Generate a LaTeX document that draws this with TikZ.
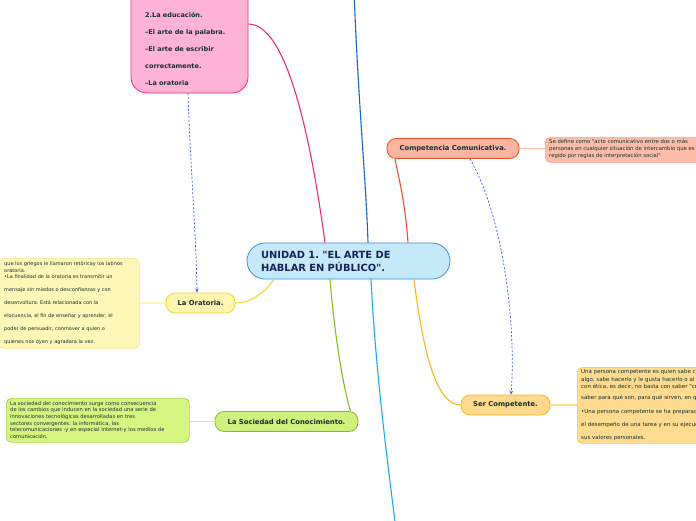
\documentclass[tikz,border=0pt]{standalone}
\usepackage{fontspec}
\setmainfont{DejaVu Sans}[Ligatures=TeXOff]
\usetikzlibrary{arrows.meta,calc}
\frenchspacing
\definecolor{txt}{HTML}{16302B}
\definecolor{navy}{HTML}{16245A}
\definecolor{cfill}{HTML}{C6E9FA}
\definecolor{cline}{HTML}{3D8FD1}
\definecolor{pfill}{HTML}{FDB2D6}
\definecolor{pline}{HTML}{EC2C7F}
\definecolor{dblue}{HTML}{1565D8}
\definecolor{lblue}{HTML}{1EA8F0}
\definecolor{ofill}{HTML}{F9B5A0}
\definecolor{oline}{HTML}{EA532A}
\definecolor{onote}{HTML}{FBBCA8}
\definecolor{onoteline}{HTML}{F7A38A}
\definecolor{sfill}{HTML}{FFDA8C}
\definecolor{sline}{HTML}{F9B61A}
\definecolor{snote}{HTML}{FFDB8F}
\definecolor{snoteline}{HTML}{F6C44A}
\definecolor{yfill}{HTML}{FFF5B0}
\definecolor{yline}{HTML}{EFD82A}
\definecolor{ynote}{HTML}{FFF7B8}
\definecolor{ynoteline}{HTML}{F5E68E}
\definecolor{gfill}{HTML}{CFF27F}
\definecolor{gline}{HTML}{85BD1F}
\definecolor{gnote}{HTML}{D6F580}
\definecolor{gnoteline}{HTML}{A8D64C}
\definecolor{rel}{HTML}{3A56F0}
\tikzset{
  topic/.style={draw, line width=0.8pt, rounded corners=9pt, inner sep=0pt,
    minimum height=20pt, text=txt, font=\fontsize{6.8}{8}\selectfont\bfseries},
  notebox/.style={draw, line width=0.7pt, rounded corners=5pt, inner sep=0pt},
  notetext/.style={anchor=north west, inner sep=0pt, align=left, text=txt},
  conn/.style={line width=1.1pt},
  notelink/.style={line width=1.6pt},
  relation/.style={draw=rel, line width=0.7pt, dash pattern=on 2pt off 1.8pt, -{Stealth[length=4pt,width=3.5pt]}}
}
\begin{document}
\begin{tikzpicture}[x=1pt,y=-1pt]
\useasboundingbox (0,0) rectangle (696,520);
\fill[white] (0,0) rectangle (696,520);

% central node
\node[draw=cline, fill=cfill, line width=0.8pt, rounded corners=18pt,
  minimum width=203pt, minimum height=36pt, inner xsep=14pt, inner ysep=0pt,
  text width=175pt, align=left, text=navy,
  font=\fontsize{9.9}{13}\selectfont\bfseries] (c) at (348.5,261)
  {UNIDAD 1. "EL ARTE DE\\HABLAR EN PÚBLICO".};

% pink box
\node[draw=pline, fill=pfill, line width=0.8pt, rounded corners=16pt,
  minimum width=117pt, minimum height=130pt, inner sep=0pt] (pk) at (189.5,28) {};
\node[notetext, font=\fontsize{6.5}{17}\selectfont\bfseries] (pkt) at (145,-4.6)
  {1.La naturaleza.\\2.La educación.\\–El arte de la palabra.\\–El arte de escribir\\correctamente.\\–La oratoria};

% topics
\node[topic, draw=oline, fill=ofill, minimum width=132pt] (cc) at (453,148.5) {Competencia Comunicativa.};
\node[topic, draw=sline, fill=sfill, minimum width=89pt] (sc) at (505.5,405) {Ser Competente.};
\node[topic, draw=yline, fill=yfill, minimum width=69pt] (or) at (200.5,303) {La Oratoria.};
\node[topic, draw=gline, fill=gfill, minimum width=143pt] (soc) at (286.5,421.5) {La Sociedad del Conocimiento.};

% notes
\node[notebox, draw=onoteline, fill=onote, minimum width=180pt, minimum height=25pt, anchor=north west] (cn) at (545,137) {};
\node[notetext, font=\fontsize{5.3}{7}\selectfont] (cnt) at (549,139.2)
  {Se define como "acto comunicativo entre dos o más\\personas en cualquier situación de intercambio que es\\regido por reglas de interpretación social"};

\node[notebox, draw=snoteline, fill=snote, minimum width=180pt, minimum height=76pt, anchor=north west] (sn) at (577,367) {};
\node[notetext, font=\fontsize{5.5}{7.5}\selectfont] (snt) at (581,369)
  {Una persona competente es quien sabe cómo hacer\\algo, sabe hacerlo y le gusta hacerlo o al menos lo hace\\con ética, es decir, no basta con saber "cómo hacer", sino\\[3.6pt]saber para qué son, para qué sirven, en qué\\[5.8pt]•Una persona competente se ha preparado para\\[5.8pt]el desempeño de una tarea y en su ejecución pone\\[5.8pt]sus valores personales.};

\node[notebox, draw=ynoteline, fill=ynote, minimum width=141pt, minimum height=90pt, anchor=north west] (on) at (-2,258) {};
\node[notetext, font=\fontsize{5}{6.6}\selectfont] (ont) at (4,261.2)
  {que los griegos le llamaron retóricay los latinos\\oratoria.\\•La finalidad de la oratoria es transmitir un\\[6.4pt]mensaje sin miedos o desconfianzas y con\\[6.4pt]desenvoltura. Está relacionada con la\\[6.4pt]elocuencia, el fin de enseñar y aprender, el\\[6.4pt]poder de persuadir, conmover a quien o\\[6.4pt]quienes nos oyen y agradara la vez.};

\node[notebox, draw=gnoteline, fill=gnote, minimum width=183pt, minimum height=44pt, anchor=north west] (gn) at (6,398) {};
\node[notetext, font=\fontsize{5.2}{6.6}\selectfont] (gnt) at (10,401.2)
  {La sociedad del conocimiento surge como consecuencia\\de los cambios que inducen en la sociedad una serie de\\innovaciones tecnológicas desarrolladas en tres\\sectores convergentes: la informática, las\\telecomunicaciones -y en especial Internet-y los medios de\\comunicación.};

% off-page ends
\coordinate (topend) at (354,-10);
\coordinate (botend) at (396,530);

% connectors
\draw[conn, draw=pline] ([xshift=-23.5pt]c.north) .. controls (315,170) and (292,24) .. (pk.east |- 0,24);
\draw[conn, draw=dblue] ([xshift=19.5pt]c.north) .. controls (366,180) and (358,100) .. (topend);
\draw[conn, draw=lblue] ([xshift=22.5pt]c.south) .. controls (376,380) and (390,480) .. (botend);
\draw[conn, draw=oline] ([xshift=59.5pt]c.north) .. controls (405,200) and (398,175) .. ([xshift=-58pt]cc.south);
\draw[conn, draw=sline] ([xshift=65.5pt]c.south) .. controls (424,360) and (438,405) .. (sc.west);
\draw[conn, draw=yline] ([xshift=-74.5pt]c.south) .. controls (262,296) and (248,303) .. (or.east);
\draw[conn, draw=gline] ([xshift=-18.5pt]c.south) .. controls (335,340) and (344,390) .. ([xshift=64pt]soc.north);

\draw[notelink, draw=onote] (cc.east) -- (cn.west |- cc.east);
\draw[notelink, draw=snote] (sc.east) -- (sn.west |- sc.east);
\draw[notelink, draw=ynote] (on.east |- or.west) -- (or.west);
\draw[notelink, draw=gnote] (gn.east |- soc.west) -- (soc.west);

% relations
\draw[relation] ([xshift=17pt]cc.south) .. controls (505,220) and (516,330) .. ([xshift=5.5pt]sc.north);
\draw[relation] ([xshift=-1.5pt]pk.south) .. controls (190,160) and (196,230) .. ([xshift=-3.5pt]or.north);
\end{tikzpicture}
\end{document}
